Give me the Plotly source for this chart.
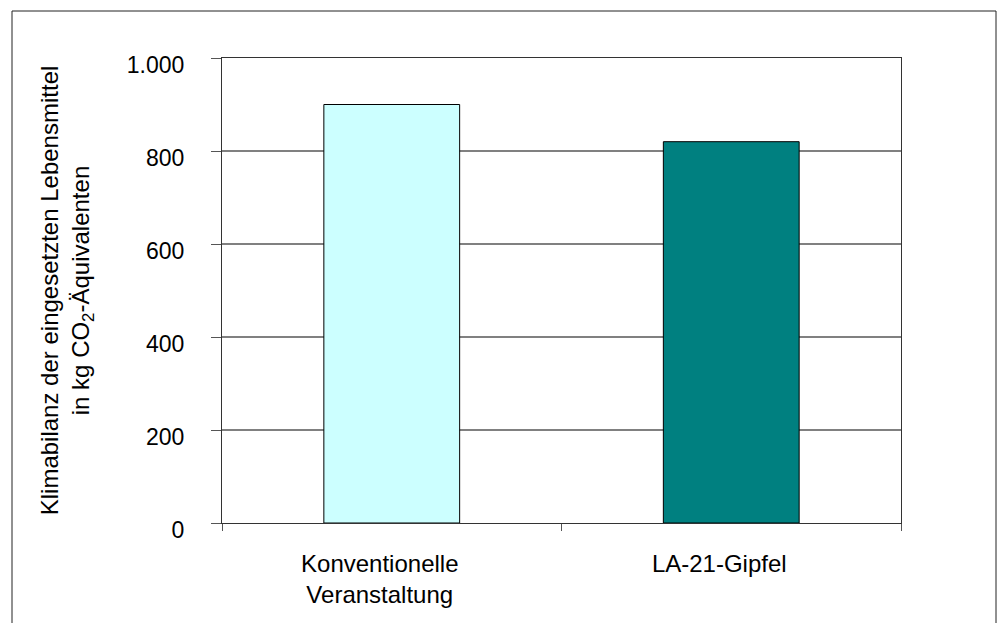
import plotly.graph_objects as go

categories = ["Konventionelle<br>Veranstaltung", "LA-21-Gipfel"]
values = [900, 820]
bar_colors = ["#CCFFFF", "#008080"]
y_ticks = [0, 200, 400, 600, 800, 1000]
y_title = "Klimabilanz der eingesetzten Lebensmittel<br>in kg CO<sub>2</sub>-Äquivalenten"

W, H = 997, 623
L, R, T, B = 222, 96, 58, 100
pw, ph = W - L - R, H - T - B

font = dict(family="Arial, Liberation Sans, sans-serif", size=24, color="black")
tick_font = dict(family="Arial, Liberation Sans, sans-serif", size=23, color="black")

fig = go.Figure(go.Bar(
    x=categories, y=values,
    marker=dict(color=bar_colors, line=dict(color="black", width=1)),
    width=0.4,
))

fig.update_layout(
    width=W, height=H,
    margin=dict(l=L, r=R, t=T, b=B, autoexpand=False),
    paper_bgcolor="white", plot_bgcolor="white",
    font=font,
    separators=",.",
    showlegend=False,
    bargap=0.6,
)

fig.update_xaxes(
    type="category",
    showline=True, linecolor="#333333", linewidth=1, mirror=True,
    ticks="outside", tickson="boundaries", ticklen=7, tickcolor="#555555",
    showgrid=False, tickfont=font, ticklabelstandoff=19, ticklabelshift=-12,
    automargin=False,
)
fig.update_yaxes(
    range=[0, 1000], tickvals=y_ticks, tickformat=",d",
    showline=True, linecolor="#333333", linewidth=1, mirror=True,
    ticks="outside", ticklen=10, tickcolor="#555555",
    showgrid=True, gridcolor="#808080", gridwidth=2, zeroline=False,
    tickfont=tick_font, ticklabelstandoff=22, ticklabelshift=7,
    title=dict(text=y_title, font=font, standoff=30),
    automargin=False,
)

# outer chart border
fig.add_shape(
    type="rect", xref="paper", yref="paper",
    x0=(12 - L) / pw, x1=(996 - L) / pw,
    y0=-(630 - (H - B)) / ph, y1=((H - B) - 11) / ph,
    line=dict(color="#222222", width=1), fillcolor="rgba(0,0,0,0)",
    layer="below",
)

fig.write_html("out.html")
